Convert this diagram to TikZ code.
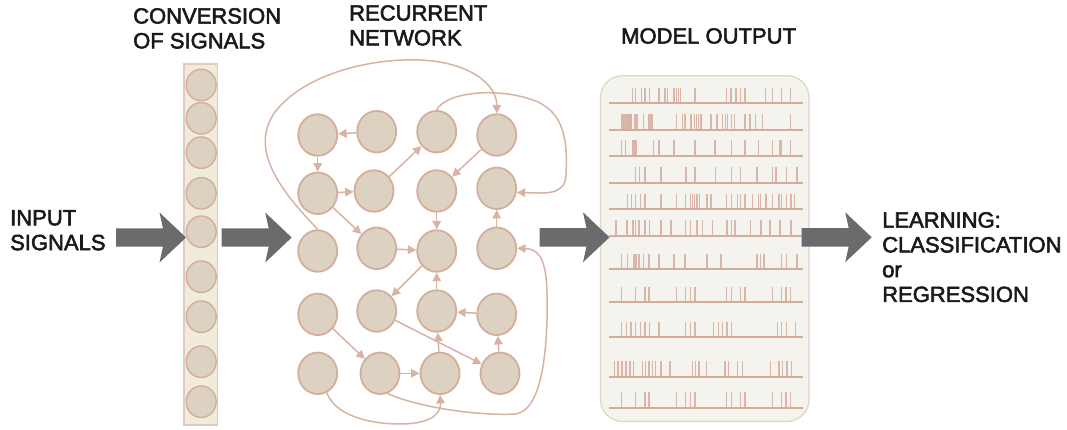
\documentclass[tikz,border=0pt]{standalone}
\usepackage{fontspec}
\setmainfont{Liberation Sans}
\newfontfamily\labelfont{Liberation Sans}[FakeBold=2.5]
\usetikzlibrary{arrows.meta,shapes.geometric}

\definecolor{nodefill}{HTML}{DDD1C1}
\definecolor{nodeline}{HTML}{D3AE9C}
\definecolor{edgecol}{HTML}{D6B3A3}
\definecolor{colfill}{HTML}{F1EBDC}
\definecolor{colline}{HTML}{E3CBBB}
\definecolor{boxfill}{HTML}{F5F3EE}
\definecolor{boxline}{HTML}{E2D7C6}
\definecolor{spikecol}{HTML}{D5AC9C}
\definecolor{arrowgray}{HTML}{6A6B6D}
\definecolor{labelcol}{HTML}{1A1A1A}

\tikzset{
  netnode/.style={ellipse, fill=nodefill, draw=nodeline, line width=1.8pt,
    minimum width=39pt, minimum height=41.5pt, inner sep=0pt},
  colnode/.style={ellipse, fill=nodefill, draw=nodeline, line width=1.4pt,
    minimum width=30pt, minimum height=31.5pt, inner sep=0pt},
  link/.style={draw=edgecol, line width=1.5pt,
    -{Triangle[width=8.5pt,length=8.5pt]}},
  lbl/.style={anchor=north west, inner sep=0pt, align=left, text=labelcol,
    font=\labelfont\fontsize{22}{24.8}\selectfont},
  spike/.style={draw=spikecol, line width=1.3pt, draw opacity=0.85},
  baseline/.style={draw=spikecol, line width=2pt},
  bigarrow/.pic={
    \fill[arrowgray] (0,-9.2) -- (47,-9.2) -- (43.5,-25) -- (70,0)
      -- (43.5,25) -- (47,9.2) -- (0,9.2) -- cycle;
  }
}

\begin{document}
\begin{tikzpicture}[x=1pt,y=-1pt]
\useasboundingbox (0,0) rectangle (1067,430);

% ---------- labels ----------
\node[lbl] (tin)   at (10,210)  {INPUT\\SIGNALS};
\node[lbl] (tconv) at (133,8)   {CONVERSION\\OF SIGNALS};
\node[lbl] (trec)  at (349,5)   {RECURRENT\\NETWORK};
\node[lbl] (tmod)  at (621,28)  {MODEL OUTPUT};
\node[lbl] (tlrn)  at (882,212) {LEARNING:\\CLASSIFICATION\\or\\REGRESSION};

% ---------- input conversion column ----------
\fill[colfill] (184,64) rectangle (217.7,425);
\draw[colline, line width=1.2pt] (184,64) rectangle (217.7,425);
\foreach \yy [count=\i] in {85,118.3,152.7,193.3,231.7,276.7,316.7,361.7,401.7}
  \node[colnode] (c\i) at (201.2,\yy) {};

% ---------- recurrent network ----------
\node[netnode] (n11) at (317.7,135)   {};
\node[netnode] (n12) at (376.7,131.7) {};
\node[netnode] (n13) at (436.7,131.7) {};
\node[netnode] (n14) at (496.7,135)   {};
\node[netnode] (n21) at (317.7,193.3) {};
\node[netnode] (n22) at (374,191)     {};
\node[netnode] (n23) at (436.7,191)   {};
\node[netnode] (n24) at (496.7,188.3) {};
\node[netnode] (n31) at (317.7,251)   {};
\node[netnode] (n32) at (376.7,248.3) {};
\node[netnode] (n33) at (436.7,251)   {};
\node[netnode] (n34) at (496.7,248.3) {};
\node[netnode] (n41) at (317.7,314.3) {};
\node[netnode] (n42) at (376.7,311)   {};
\node[netnode] (n43) at (436.7,311)   {};
\node[netnode] (n44) at (496.7,314.3) {};
\node[netnode] (n51) at (317.7,373.3) {};
\node[netnode] (n52) at (380,373.3)   {};
\node[netnode] (n53) at (440,373.3)   {};
\node[netnode] (n54) at (500,373.3)   {};

% straight recurrent links
\draw[link] (n12) -- (n11);
\draw[link] (n11) -- (n21);
\draw[link] (n21) -- (n22);
\draw[link] (n22) -- (n13);
\draw[link] (n14) -- (n23);
\draw[link] (n23) -- (n33);
\draw[link] (n34) -- (n24);
\draw[link] (n21) -- (n32);
\draw[link] (n32) -- (n33);
\draw[link] (n33) -- (n42);
\draw[link] (n43) -- (n33);
\draw[link] (n44) -- (n43);
\draw[link] (n42) -- (n54);
\draw[link] (n53) -- (n43);
\draw[link] (n54) -- (n44);
\draw[link] (n41) -- (n52);
\draw[link] (n52) -- (n53);

% long curved links
\draw[link] (n13.north) .. controls (445,92) and (500,86) .. (538,102)
  .. controls (568,116) and (567,150) .. (566,175)
  .. controls (565,196) and (545,193) .. (n24.-12);
\draw[link] (n31.north) .. controls (282,192) and (248,150) .. (275,112)
  .. controls (306,72) and (375,58) .. (420,60)
  .. controls (470,62) and (497,85) .. (n14.north);
\draw[link] (n51.-65) .. controls (335,415) and (368,424) .. (400,424)
  .. controls (436,424) and (441,410) .. (n53.south);
\draw[link] (n52.-70) .. controls (420,408) and (480,416) .. (515,414)
  .. controls (546,411) and (548,330) .. (547,292)
  .. controls (546,254) and (536,249) .. (n34.east);

% ---------- model output ----------
\draw[boxline, fill=boxfill, line width=1.3pt, rounded corners=22pt]
  (600.5,75.7) rectangle (809,421.5);

\newcommand{\spikerow}[2]{%
  \draw[baseline] (609.3,#1) -- (802.7,#1);
  \foreach \sx in {#2} \draw[spike] (\sx,#1) -- (\sx,#1-15.5);
}
\spikerow{103.5}{632.3,635.7,641.7,645,649.3,659,665,667.7,674,676.3,678.3,680.3,695,726.7,731,736,740.3,745,765.7,772.7,781.7,790.7}
\spikerow{129.7}{621.7,623,624.3,625.7,627,628.3,630,631,635,636.7,637.7,643.3,649,651,652.3,676.7,682.3,685,691,694.3,696.3,698.3,701,711,717,722.3,725.7,727.7,731.7,734.3,745,750,755.7,762.3,790.7}
\spikerow{156}{621.7,625.7,633,635,636.3,653.3,659,674,695,715,731.7,745,758.3,772.7,779.7,781,790.7}
\spikerow{183}{635.7,639.7,645,661,686,695,715.3,731.7,740.7,757,772.7,776,786.3,797}
\spikerow{209.3}{627.7,631.7,635.7,640.3,645,661,676.7,685.7,690.3,692.3,694.3,697,699.7,707,711,726.7,731.7,737.7,740.3,745,752.3,758.3,760.3,766,772.7,779,781.7,786.7,791,794.3}
\spikerow{236}{616,627,633,635.7,639,645,649.3,661,671,685.7,690.3,697,702.3,712.7,727,731.7,735,750.7,761,770,780,791}
\spikerow{269}{621.7,627.7,633.7,635,636.3,639,643.3,649,659,674,685,707,721,757,760.7,764,781.7,786.3,797}
\spikerow{302}{621.7,635.7,645,649,676.7,685.7,690.3,695,726.7,731.7,740.7,745,772.7,781.7,786,790.7}
\spikerow{337.3}{621.7,626.3,631,635.7,640.3,645,649.3,659,685.7,690.3,695,713.3,718.3,722.7,727,731.7,777.3,781.7,786.7,795.7}
\spikerow{376.7}{614.5,618,622,626,630,633.5,642.3,645.7,649,652.3,655.7,661,670,692.3,695.7,699,706.3,725,728.3,737.7,742.3,770.7,779,782.3,787,791.7}
\spikerow{407.7}{621.7,635.7,645,649,676.7,685.7,690.3,695,726.7,731.7,740.7,745,772.7,781.7,786,790.7}

% ---------- flow arrows ----------
\pic at (116,237.5)   {bigarrow};
\pic at (221.7,237.5) {bigarrow};
\pic at (539.5,237.3) {bigarrow};
\pic at (801.7,237.3) {bigarrow};

\end{tikzpicture}
\end{document}
